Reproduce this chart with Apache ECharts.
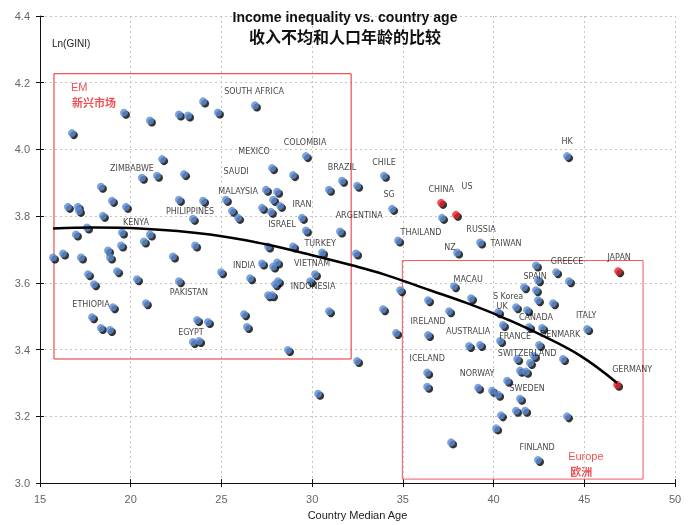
<!DOCTYPE html>
<html>
<head>
<meta charset="utf-8">
<script src="https://cdn.jsdelivr.net/npm/echarts@6/dist/echarts.min.js"></script>
<style>html,body{margin:0;padding:0;background:#fff}#c{width:690px;height:525px;will-change:transform}#c svg{will-change:transform}</style>
</head>
<body>
<div id="c"></div>
<script>
// ---- data ----
const xTicks = [15, 20, 25, 30, 35, 40, 45, 50];
const yTicks = [3.0, 3.2, 3.4, 3.6, 3.8, 4.0, 4.2, 4.4];

const countryAge = [16.76,19.63,21.06,22.66,23.16,23.99,24.81,26.85,29.66,21.73,20.62,21.45,22.94,27.79,28.95,31.65,32.48,30.93,18.36,27.46,28.07,27.85,28.23,22.66,23.99,25.25,18.97,19.74,16.54,17.09,17.15,27.24,27.73,18.47,23.43,25.58,25.92,29.44,17.59,16.98,19.52,21.06,20.73,19.47,23.55,29.66,31.54,27.57,28.95,30.55,32.42,15.72,16.27,17.26,18.75,18.86,22.33,27.24,27.85,28.07,24.98,30.16,26.58,17.65,19.25,20.35,22.66,17.98,29.89,27.96,28.12,27.57,27.79,20.84,19.02,17.87,18.36,18.86,23.66,24.26,26.25,26.41,30.93,23.43,23.77,28.67,32.48,30.33,
33.96,34.41,37.16,34.74,39.26,37.99,44.05,34.85,33.91,34.63,36.39,36.39,36.34,36.34,
42.34,43.45,44.16,42.45,37.82,41.68,42.34,38.76,42.45,43.28,37.55,41.24,41.85,40.25,40.52,41.96,42.68,45.16,40.36,42.51,38.65,39.26,43.83,41.30,42.23,42.01,41.46,41.79,39.15,39.92,40.25,40.75,41.46,41.24,41.74,40.41,44.05,40.14,37.66,42.45];
const countryLnGini = [4.049,4.110,4.087,4.105,4.102,4.144,4.111,4.132,3.980,3.971,3.915,3.921,3.926,3.944,3.923,3.906,3.891,3.879,3.888,3.879,3.873,3.849,3.831,3.849,3.846,3.849,3.846,3.828,3.828,3.828,3.816,3.825,3.813,3.801,3.792,3.816,3.795,3.795,3.766,3.745,3.751,3.745,3.724,3.712,3.712,3.757,3.754,3.709,3.709,3.691,3.688,3.676,3.688,3.676,3.697,3.676,3.679,3.658,3.649,3.661,3.632,3.626,3.614,3.626,3.635,3.611,3.605,3.596,3.605,3.596,3.605,3.563,3.563,3.539,3.527,3.497,3.465,3.459,3.489,3.483,3.506,3.468,3.515,3.423,3.426,3.399,3.366,3.268,
3.921,3.822,3.795,3.727,3.721,3.691,3.980,3.578,3.521,3.450,3.548,3.444,3.331,3.289,
3.652,3.632,3.605,3.608,3.590,3.587,3.578,3.554,3.548,3.539,3.515,3.527,3.518,3.512,3.474,3.468,3.465,3.462,3.426,3.414,3.411,3.414,3.372,3.372,3.381,3.360,3.337,3.334,3.286,3.277,3.265,3.307,3.253,3.217,3.217,3.203,3.200,3.164,3.122,3.069];

const highlightNames = ['China', 'US', 'Japan', 'Germany'];
const highlightAge = [37.11, 37.93, 46.87, 46.81];
const highlightLnGini = [3.840, 3.804, 3.635, 3.295];

const trendAge = [15.72, 18.0, 20.5, 24.37, 27.51, 30.0, 32.25, 34.0, 36.5, 38.5, 40.36, 42.5, 44.77, 46.81];
const trendLnGini = [3.763, 3.766, 3.763, 3.745, 3.715, 3.683, 3.652, 3.625, 3.578, 3.540, 3.500, 3.447, 3.382, 3.300];

const labelNames = ['SOUTH AFRICA','MEXICO','COLOMBIA','ZIMBABWE','SAUDI','BRAZIL','CHILE','MALAYSIA','SG','CHINA','US','IRAN','PHILIPPINES','ARGENTINA','ISRAEL','KENYA','THAILAND','RUSSIA','TURKEY','TAIWAN','NZ','GREECE','JAPAN','INDIA','VIETNAM','SPAIN','MACAU','INDONESIA','PAKISTAN','S Korea','ETHIOPIA','UK','CANADA','ITALY','IRELAND','AUSTRALIA','EGYPT','DENMARK','FRANCE','SWITZERLAND','ICELAND','GERMANY','NORWAY','SWEDEN','FINLAND','HK'];
const labelAge = [26.80,26.80,29.61,20.07,25.81,31.65,33.96,25.92,34.24,37.11,38.54,29.44,23.27,32.59,28.34,20.29,36.00,39.31,30.44,40.69,37.60,44.05,46.92,26.25,30.00,42.29,38.60,30.05,23.21,40.80,17.81,40.47,42.34,45.10,36.39,38.60,23.32,43.67,41.19,41.85,36.34,47.64,39.09,41.85,42.40,44.05];
const labelLnGini = [4.174,3.995,4.022,3.944,3.935,3.947,3.962,3.873,3.864,3.879,3.888,3.834,3.813,3.801,3.775,3.780,3.751,3.760,3.718,3.718,3.706,3.664,3.676,3.652,3.658,3.620,3.611,3.590,3.572,3.560,3.536,3.530,3.497,3.503,3.483,3.453,3.450,3.444,3.438,3.387,3.372,3.340,3.328,3.283,3.107,4.025];

const regionNames = ['EM', '新兴市场', 'Europe', '欧洲'];
const regionAge = [16.71, 16.76, 44.11, 44.22];
const regionLnGini = [4.186, 4.141, 3.080, 3.036];

const emBox = [15.77, 4.227, 32.15, 3.372];
const europeBox = [34.97, 3.667, 48.24, 3.012];

// ---- chart ----
const latin = '"Liberation Sans",Arial,sans-serif';
const labelFont = '"DejaVu Sans","Liberation Sans",sans-serif';
const cjk = '"Noto Sans CJK SC",sans-serif';

const bluePts = countryAge.map((a, i) => [a, countryLnGini[i]]);
const redPts = highlightAge.map((a, i) => ({ name: highlightNames[i], value: [a, highlightLnGini[i]] }));
const allPts = bluePts.concat(redPts.map(p => p.value));

const noBorder = { textBorderWidth: 0, textBorderColor: 'transparent', textShadowBlur: 0 };
const xRange = { type: 'value', min: xTicks[0], max: xTicks[xTicks.length - 1], interval: 5 };
const yRange = { type: 'value', min: yTicks[0], max: yTicks[yTicks.length - 1], interval: 0.2 };
const innerTickOnly = {
  axisLine: { show: false }, axisLabel: { show: false }, splitLine: { show: false },
  axisTick: { show: true, inside: true, length: 4, lineStyle: { color: '#111' } }
};

const chart = echarts.init(document.getElementById('c'), null, { renderer: 'svg' });
chart.setOption({
  animation: false,
  backgroundColor: 'transparent',
  grid: { left: 40, right: 15, top: 16, bottom: 39, containLabel: false },
  graphic: [
    { type: 'text', left: 'center', top: 10, style: { text: 'Income inequality vs. country age', font: 'bold 14px ' + latin, fill: '#111' }, z: 100 },
    { type: 'text', left: 'center', top: 28, style: { text: '收入不均和人口年龄的比较', font: 'bold 16px ' + cjk, fill: '#111' }, z: 100 },
    { type: 'text', left: 52, top: 38, style: { text: 'Ln(GINI)', font: '10px ' + latin, fill: '#222' }, z: 100 }
  ],
  xAxis: [Object.assign({}, xRange, {
    name: 'Country Median Age', nameLocation: 'middle', nameGap: 24,
    nameTextStyle: { fontFamily: latin, fontSize: 11, color: '#222' },
    axisLine: { lineStyle: { color: '#111', width: 1 } },
    axisTick: { show: true, length: 4, lineStyle: { color: '#111' } },
    axisLabel: { color: '#666', fontFamily: latin, fontSize: 11, margin: 10 },
    splitLine: { show: true, lineStyle: { color: '#c4c4c4', type: [2, 3], width: 1 } }
  }), Object.assign({}, xRange, innerTickOnly, { position: 'bottom' })],
  yAxis: [Object.assign({}, yRange, {
    axisLine: { show: true, lineStyle: { color: '#111', width: 1 } },
    axisTick: { show: true, length: 4, lineStyle: { color: '#111' } },
    axisLabel: { color: '#666', fontFamily: latin, fontSize: 11, margin: 10, formatter: v => v.toFixed(1) },
    splitLine: { show: true, lineStyle: { color: '#c4c4c4', type: [2, 3], width: 1 } }
  }), Object.assign({}, yRange, innerTickOnly, { position: 'left' })],
  series: [
    {
      type: 'scatter', data: allPts, symbolSize: 8, symbolOffset: [2, 2], silent: true, z: 2,
      itemStyle: { color: '#000' }
    },
    {
      type: 'scatter', data: bluePts, symbolSize: 8, silent: true, z: 3,
      itemStyle: { color: '#5b8cd3' },
      markArea: {
        silent: true,
        data: [
          [{ coord: [emBox[0], emBox[1]], itemStyle: { color: 'rgba(0,0,0,0)', borderColor: '#e82a30', borderWidth: 1 } }, { coord: [emBox[2], emBox[3]] }],
          [{ coord: [europeBox[0], europeBox[1]], itemStyle: { color: 'rgba(0,0,0,0)', borderColor: '#ec5a5e', borderWidth: 1 } }, { coord: [europeBox[2], europeBox[3]] }]
        ]
      }
    },
    {
      type: 'scatter', data: redPts, symbolSize: 8, silent: true, z: 4,
      itemStyle: { color: '#e8252b' }
    },
    {
      type: 'line', data: trendAge.map((a, i) => [a, trendLnGini[i]]), smooth: 0.4, symbol: 'none', silent: true, z: 5,
      lineStyle: { color: '#000', width: 2.5 }
    },
    {
      type: 'scatter', symbolSize: 0, silent: true, z: 6,
      itemStyle: { color: '#111' },
      data: labelNames.map((n, i) => ({ name: n, value: [labelAge[i], labelLnGini[i]] })),
      label: Object.assign({ show: true, position: [0, 0], align: 'center', verticalAlign: 'middle', formatter: p => p.name,
        fontFamily: labelFont, fontSize: 8, color: '#111' }, noBorder)
    },
    {
      type: 'scatter', symbolSize: 0, silent: true, z: 6,
      itemStyle: { color: '#e8252b' },
      data: regionNames.map((n, i) => ({
        name: n, value: [regionAge[i], regionLnGini[i]],
        label: /[^\x00-\x7f]/.test(n) ? { fontFamily: cjk, fontWeight: 'bold' } : { fontFamily: latin }
      })),
      label: Object.assign({ show: true, position: [0, 0], align: 'left', verticalAlign: 'middle', formatter: p => p.name,
        fontSize: 11, color: '#e8252b' }, noBorder)
    }
  ]
});
</script>
</body>
</html>
